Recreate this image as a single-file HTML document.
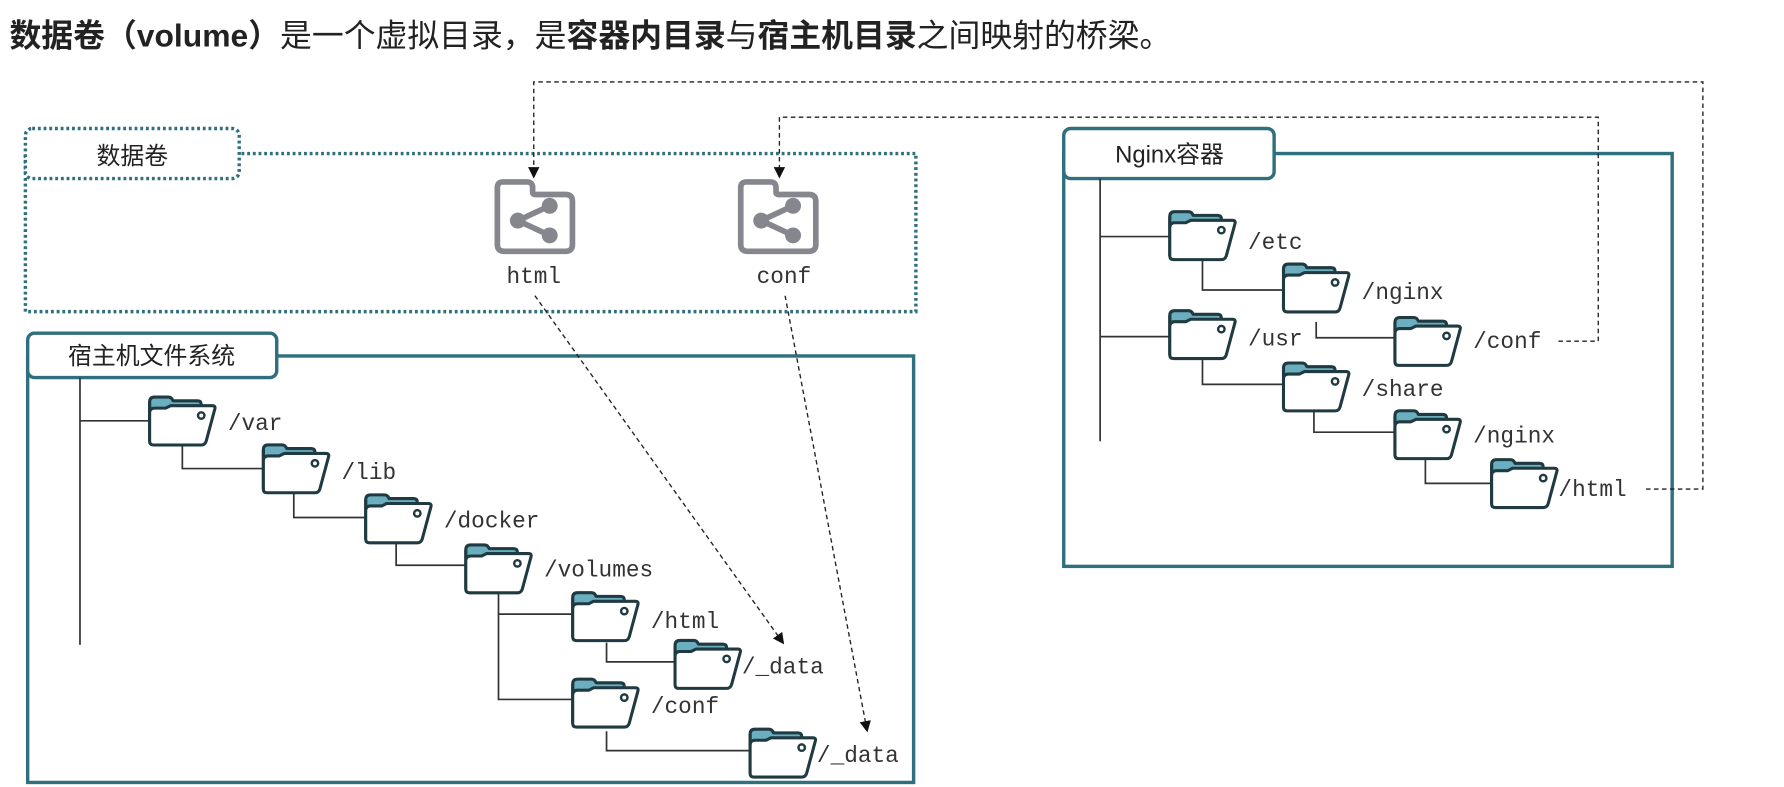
<!DOCTYPE html>
<html><head><meta charset="utf-8"><style>
html,body{margin:0;padding:0;background:#fff;}
svg{display:block;}
.m{font-family:"Liberation Mono","DejaVu Sans Mono",monospace;font-size:20px;fill:#333;}
.c{font-family:"Liberation Sans","Noto Sans CJK SC",sans-serif;}
</style></head><body>
<svg width="1784" height="787" viewBox="0 0 1568 692" xmlns="http://www.w3.org/2000/svg">
<defs>
<g id="f0">
<path d="M3 6 Q3 2 7 2 H18 Q21 2 22 5 H42 Q45 5 45 8 V13 H3 Z" fill="#6aaec0" stroke="#1f3a40" stroke-width="2.5" stroke-linejoin="round"/>
<path d="M3 6 V38" stroke="#1f3a40" stroke-width="2.5"/>
<path d="M3 38 V15 Q3 11 7 11 H16 L20 9 H54 Q57 9 56 12 L49 38 Q48 41 45 41 H6 Q3 41 3 38 Z" fill="#fff" stroke="#1f3a40" stroke-width="2.5" stroke-linejoin="round"/>
<circle cx="45" cy="17" r="2.6" fill="none" stroke="#1f3a40" stroke-width="2"/>
</g>
<g id="f"><use href="#f0" transform="translate(-1,-2) scale(1.08)"/></g>
<g id="v">
<path d="M4 8 Q4 3 9 3 H30 Q35 3 35 8 V12 Q35 14 37 14 H64 Q70 14 70 20 V58 Q70 64 64 64 H10 Q4 64 4 58 Z" fill="#fff" stroke="#86868f" stroke-width="5" stroke-linejoin="round"/>
<circle cx="50" cy="24" r="7" fill="#86868f"/>
<circle cx="22" cy="37" r="7" fill="#86868f"/>
<circle cx="50" cy="50" r="7" fill="#86868f"/>
<path d="M50 24 L22 37 L50 50" stroke="#86868f" stroke-width="5" fill="none"/>
</g>
<marker id="a" markerWidth="10" markerHeight="10" refX="8" refY="5" orient="auto" markerUnits="userSpaceOnUse"><path d="M0 0 L10 5 L0 10 Z" fill="#111"/></marker>
</defs>

<text x="8" y="41" class="c" font-size="28" fill="#222"><tspan font-weight="bold">数据卷（volume）</tspan>是一个虚拟目录，是<tspan font-weight="bold">容器内目录</tspan>与<tspan font-weight="bold">宿主机目录</tspan>之间映射的桥梁。</text>

<rect x="22" y="135" width="783" height="139" fill="none" stroke="#2f6f7e" stroke-width="3" stroke-dasharray="2.5 2.5"/>
<rect x="22" y="113" width="188" height="44" rx="6" fill="#fff" stroke="#2f6f7e" stroke-width="3" stroke-dasharray="2.5 2.5"/>
<text x="116" y="144" class="c" font-size="21" fill="#222" text-anchor="middle">数据卷</text>
<use href="#v" x="433" y="157"/>
<use href="#v" x="647" y="157"/>
<text x="469" y="249" class="m" fill="#444" text-anchor="middle">html</text>
<text x="689" y="249" class="m" fill="#444" text-anchor="middle">conf</text>

<rect x="24" y="313" width="779" height="375" fill="none" stroke="#2f6f7e" stroke-width="3"/>
<rect x="24" y="293" width="219" height="39" rx="6" fill="#fff" stroke="#2f6f7e" stroke-width="3"/>
<text x="133" y="320" class="c" font-size="21" fill="#222" text-anchor="middle">宿主机文件系统</text>
<g stroke="#333" stroke-width="1.5" fill="none">
<path d="M70 332 V567 M70 370 H132"/>
<path d="M160 385 V412 H232"/>
<path d="M258 428 V455 H322"/>
<path d="M348 472 V497 H410"/>
<path d="M438 518 V615 H504 M438 540 H504"/>
<path d="M533 565 V582 H594"/>
<path d="M533 643 V660 H660"/>
</g>
<use href="#f" x="129" y="349"/><text x="200" y="378" class="m">/var</text>
<use href="#f" x="229" y="391"/><text x="300" y="421" class="m">/lib</text>
<use href="#f" x="319" y="435"/><text x="390" y="464" class="m">/docker</text>
<use href="#f" x="407" y="479"/><text x="478" y="507" class="m">/volumes</text>
<use href="#f" x="501" y="521"/><text x="572" y="552" class="m">/html</text>
<use href="#f" x="591" y="563"/><text x="652" y="592" class="m">/_data</text>
<use href="#f" x="501" y="597"/><text x="572" y="627" class="m">/conf</text>
<use href="#f" x="657" y="641"/><text x="718" y="670" class="m">/_data</text>

<rect x="935" y="135" width="535" height="363" fill="none" stroke="#2f6f7e" stroke-width="3"/>
<rect x="935" y="113" width="185" height="44" rx="6" fill="#fff" stroke="#2f6f7e" stroke-width="3"/>
<text x="1028" y="143" class="c" font-size="21" fill="#222" text-anchor="middle">Nginx容器</text>
<g stroke="#333" stroke-width="1.5" fill="none">
<path d="M967 157 V388 M967 208 H1029 M967 296 H1029"/>
<path d="M1057 228 V255 H1129"/>
<path d="M1157 283 V297 H1227"/>
<path d="M1057 312 V338 H1129"/>
<path d="M1155 357 V380 H1227"/>
<path d="M1253 403 V425 H1312"/>
</g>
<use href="#f" x="1026" y="186"/><text x="1097" y="219" class="m">/etc</text>
<use href="#f" x="1126" y="232"/><text x="1197" y="263" class="m">/nginx</text>
<use href="#f" x="1026" y="273"/><text x="1097" y="304" class="m">/usr</text>
<use href="#f" x="1224" y="279"/><text x="1295" y="306" class="m">/conf</text>
<use href="#f" x="1126" y="319"/><text x="1197" y="348" class="m">/share</text>
<use href="#f" x="1224" y="361"/><text x="1295" y="389" class="m">/nginx</text>
<use href="#f" x="1309" y="404"/><text x="1370" y="436" class="m">/html</text>

<g stroke="#222" stroke-width="1.2" fill="none" stroke-dasharray="4 3">
<path d="M1447 430 H1497 V72 H469 V155" marker-end="url(#a)"/>
<path d="M1370 300 H1405 V103 H685 V155" marker-end="url(#a)"/>
<path d="M470 260 L688 565" marker-end="url(#a)"/>
<path d="M690 260 L762 642" marker-end="url(#a)"/>
</g>
</svg>
</body></html>
